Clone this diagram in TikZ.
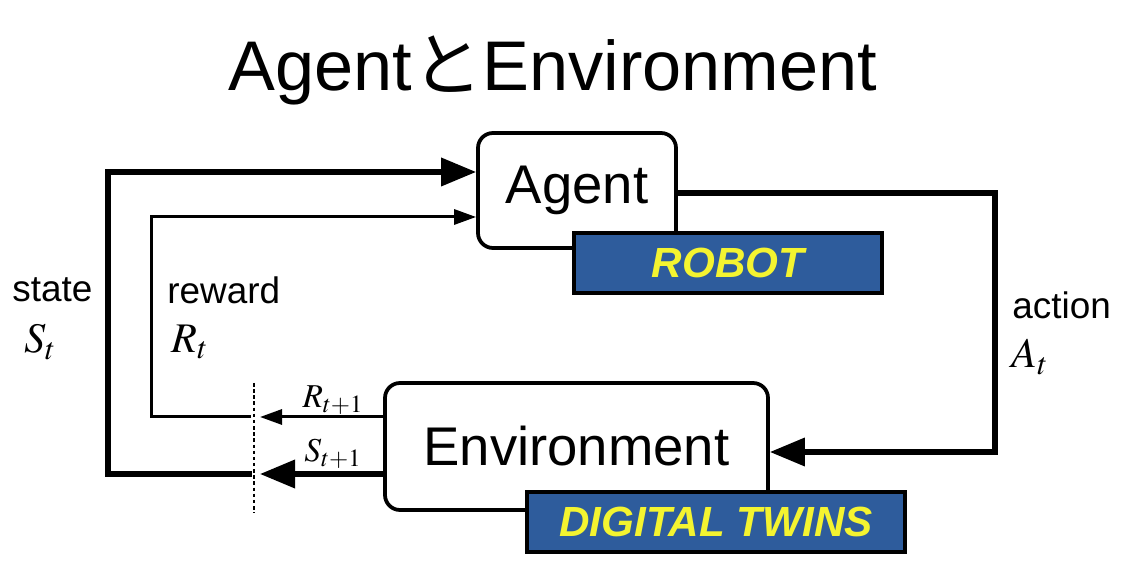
\documentclass[tikz,border=0pt]{standalone}
\usepackage{amsmath}
\usepackage{mathptmx}
\usepackage{fontspec}
\setmainfont{Liberation Sans}
\newfontfamily\cjk{Noto Sans CJK JP}
\usepackage{tikz}
\usetikzlibrary{arrows.meta}

\definecolor{tagblue}{HTML}{2E5C9C}
\definecolor{tagyellow}{HTML}{F4F430}

\tikzset{
	block/.style={draw=black, fill=white, rounded corners=3mm, line width=0.75mm, inner sep=0pt, font=\fontsize{31}{36}\selectfont},
	tag/.style={draw=black, fill=tagblue, line width=0.8mm, inner sep=0pt, text=tagyellow, font=\fontsize{24}{28}\selectfont\bfseries\itshape},
	bigflow/.style={line width=1.05mm, -{Triangle[length=7mm, width=5.5mm]}},
	smallflow/.style={line width=0.6mm, -{Triangle[length=4.4mm, width=3mm]}},
	word/.style={font=\fontsize{21}{25}\selectfont, inner sep=0pt},
	sym/.style={font=\fontsize{24}{28}\selectfont, inner sep=0pt}
}

\begin{document}
\begin{tikzpicture}
		\useasboundingbox (0,0) rectangle (22.58,11.58);

		\node (title) at (11.06,10.18) {\fontsize{40}{46}\selectfont Agent{\cjk と}Environment};

		\node[block, minimum width=3.96cm, minimum height=2.3cm] (agent) at (11.54,7.77) {Agent};
		\node[tag, minimum width=6.16cm, minimum height=1.2cm] (robot) at (14.56,6.32) {ROBOT};
		\node[block, minimum width=7.66cm, minimum height=2.54cm] (env) at (11.53,2.65) {Environment};
		\node[tag, minimum width=7.56cm, minimum height=1.2cm] (twins) at (14.32,1.14) {DIGITAL TWINS};

		% state loop
		\coordinate (scut) at (5.04,2.1);
		\coordinate (stip) at (5.2,2.1);
		\coordinate (sleft) at (2.16,2.1);
		\coordinate (stop) at (2.16,8.14);
		\draw[bigflow] (env.west |- stip) -- (stip);
		\draw[bigflow] (scut) -- (sleft) -- (stop) -- (stop -| agent.west);

		% reward loop
		\coordinate (rcut) at (5.02,3.24);
		\coordinate (rtip) at (5.2,3.24);
		\coordinate (rleft) at (3.02,3.24);
		\coordinate (rtop) at (3.02,7.24);
		\draw[smallflow] (env.west |- rtip) -- (rtip);
		\draw[smallflow] (rcut) -- (rleft) -- (rtop) -- (rtop -| agent.west);

		% action loop
		\coordinate (atop) at (19.9,7.72);
		\coordinate (abot) at (19.9,2.54);
		\draw[bigflow] (agent.east |- atop) -- (atop) -- (abot) -- (abot -| env.east);

		% time step cut
		\coordinate (dtop) at (5.08,3.92);
		\coordinate (dbot) at (5.08,1.32);
		\draw[line width=0.3mm, dash pattern=on 2pt off 1.5pt] (dtop) -- (dbot);

		\node[word, anchor=west] (state) at (0.24,5.78) {state};
		\node[sym] (st) at (0.8,4.74) {$S_t$};
		\node[word, anchor=west] (reward) at (3.34,5.78) {reward};
		\node[sym] (rt) at (3.8,4.74) {$R_t$};
		\node[word, anchor=west] (action) at (20.24,5.48) {action};
		\node[sym] (at) at (20.6,4.44) {$A_t$};
		\node[sym, font=\fontsize{19}{22}\selectfont] (rnext) at (6.66,3.58) {$R_{t+1}$};
		\node[sym, font=\fontsize{19}{22}\selectfont] (snext) at (6.66,2.5) {$S_{t+1}$};

	\end{tikzpicture}
\end{document}
